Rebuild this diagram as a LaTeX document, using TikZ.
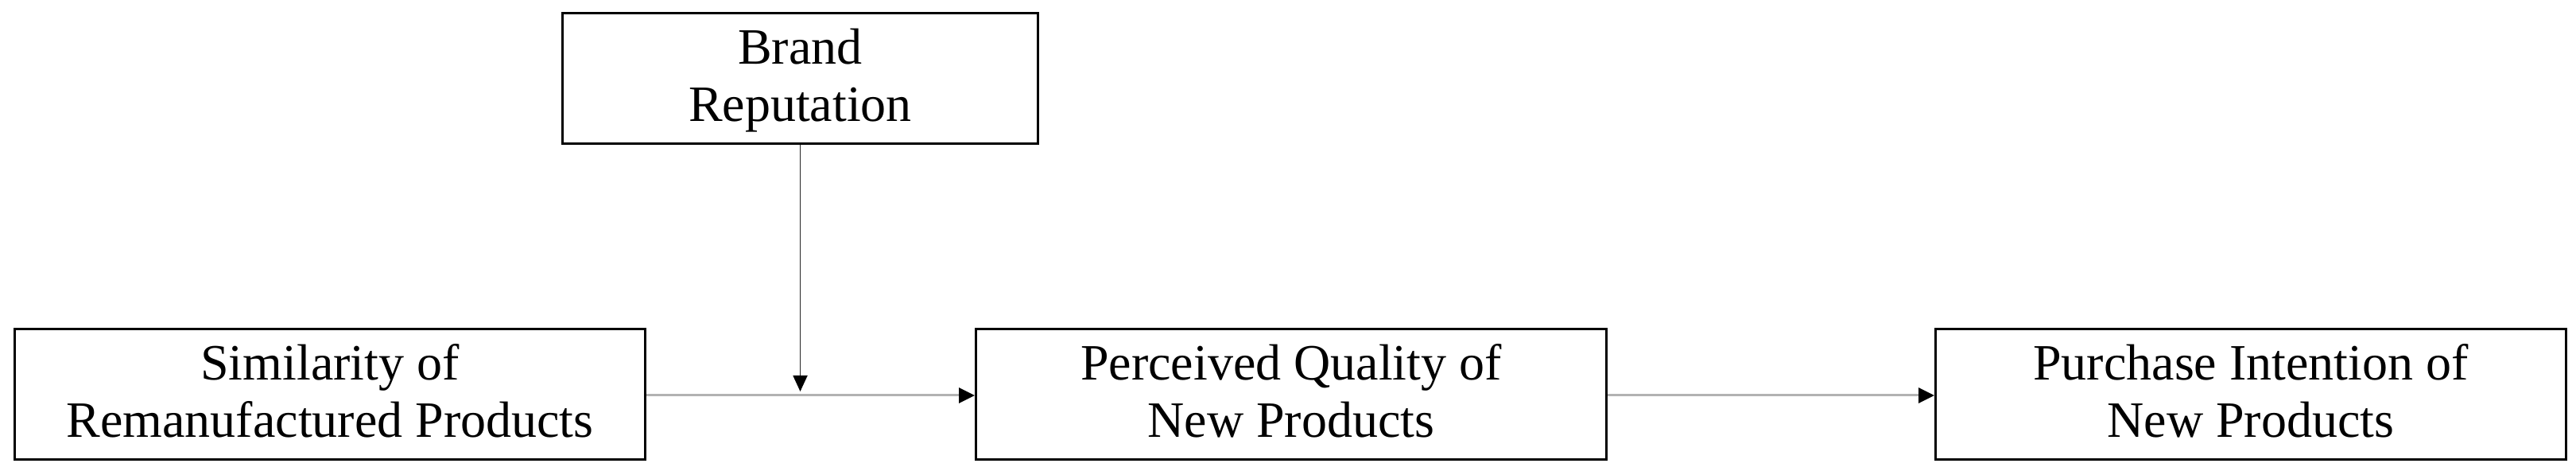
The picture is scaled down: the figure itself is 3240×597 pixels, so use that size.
\documentclass[tikz,border=0pt]{standalone}
\usepackage{fontspec}
\setmainfont{Liberation Serif}
\usetikzlibrary{arrows.meta}
\begin{document}
\begin{tikzpicture}[x=1pt,y=1pt,
  box/.style={draw=black,line width=3pt,fill=white,rectangle,inner sep=0pt,
    minimum width=793pt,minimum height=164pt,align=center,
    text height=116pt,text depth=7pt,
    font=\fontsize{64}{72}\selectfont},
  topbox/.style={box,minimum width=598pt},
  mainline/.style={draw=black!30,line width=3pt,
    -{Triangle[length=20pt,width=19pt,color=black]}},
  modline/.style={draw=black!85,line width=1.8pt,
    -{Triangle[length=20pt,width=18pt,color=black]}}]
\useasboundingbox (0,0) rectangle (3240,597);
\node[box] (sim) at (415,101.5) {Similarity of\\Remanufactured Products};
\node[box] (perc) at (1624,101.5) {Perceived Quality of\\New Products};
\node[box] (purch) at (2831,101.5) {Purchase Intention of\\New Products};
\node[topbox] (brand) at (1006.5,498.5) {Brand\\Reputation};
\coordinate (mod) at (1006.5,105);
\draw[mainline] (sim.east |- 0,100) -- (perc.west |- 0,100);
\draw[mainline] (perc.east |- 0,100) -- (purch.west |- 0,100);
\draw[modline] (brand.south) -- (mod);
\end{tikzpicture}
\end{document}
